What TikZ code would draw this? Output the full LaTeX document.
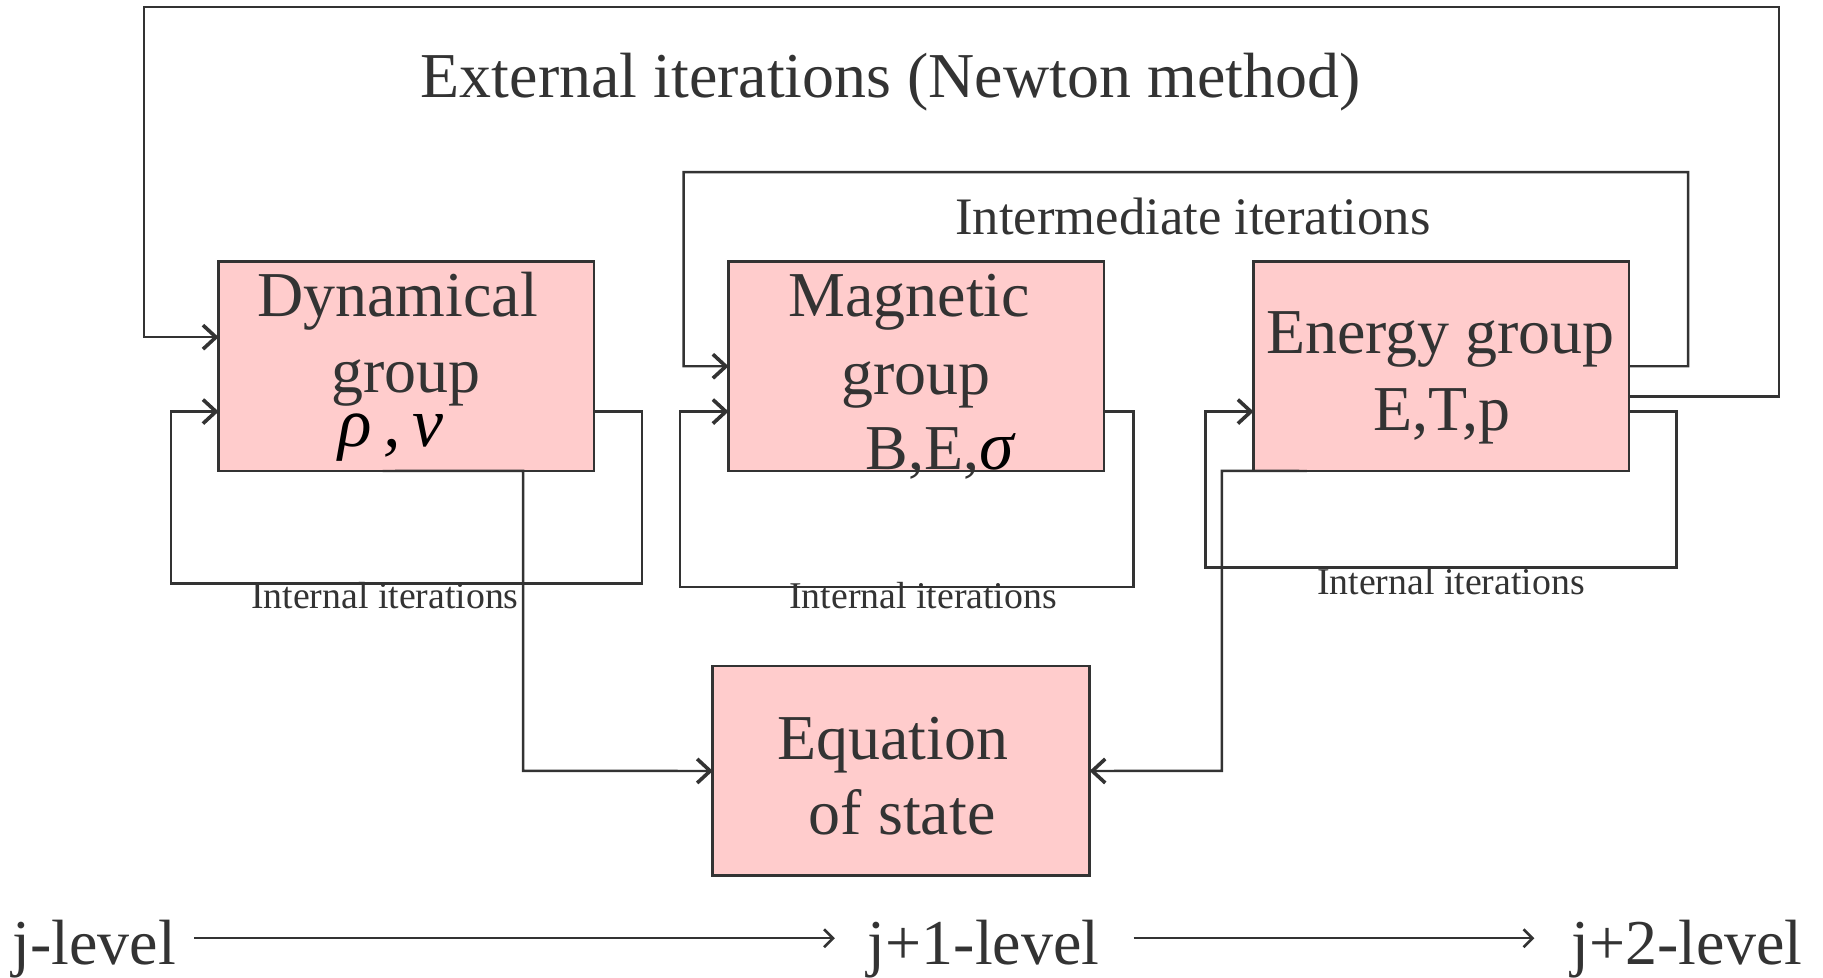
\documentclass[tikz,border=0pt]{standalone}
\usepackage{fontspec}
\setmainfont{Liberation Serif}
\usetikzlibrary{arrows.meta}
\definecolor{ink}{HTML}{333333}
\definecolor{boxfill}{HTML}{FFCCCC}
\begin{document}
\begin{tikzpicture}[x=1pt,y=-1pt,scale=1.1626,transform shape,
  grp/.style={draw=ink,fill=boxfill,line width=2.6pt,minimum width=323pt,minimum height=180pt,inner sep=0pt,outer sep=0pt},
  big/.style={text=ink,font=\fontsize{55}{60}\selectfont,anchor=base,inner sep=0pt},
  smalltxt/.style={text=ink,font=\fontsize{32.5}{36}\selectfont,anchor=base,inner sep=0pt},
  midtxt/.style={text=ink,font=\fontsize{45.3}{50}\selectfont,anchor=base,inner sep=0pt},
  conn/.style={draw=ink,line width=2.4pt},
  tip/.style={-{Straight Barb[length=13pt,width=24pt,line width=3.6pt]}},
  lvl/.style={draw=ink,line width=2.4pt,-{Straight Barb[length=9pt,width=18pt,line width=2.6pt]}}
]
\useasboundingbox (0,0) rectangle (1568,841);
% boxes
\node[grp] (D) at (349.5,315) {};
\node[grp] (M) at (788,315) {};
\node[grp] (En) at (1239.5,315) {};
\node[grp,minimum width=324pt] (EOS) at (775,663) {};
% connectors
\draw[conn,tip] (En.east |- 0,341) -- (1530,341) -- (1530,6) -- (124,6) -- (124,290) -- (D.west |- 0,290);
\draw[conn,tip] (En.east) -- (1452,315) -- (1452,148) -- (588,148) -- (588,315) -- (M.west);
\draw[conn,tip] (D.east |- 0,354) -- (552,354) -- (552,502) -- (147,502) -- (147,354) -- (D.west |- 0,354);
\draw[conn,tip] (M.east |- 0,354) -- (975,354) -- (975,505) -- (585,505) -- (585,354) -- (M.west |- 0,354);
\draw[conn,tip] (En.east |- 0,354) -- (1442,354) -- (1442,488) -- (1037,488) -- (1037,354) -- (En.west |- 0,354);
\draw[conn,tip] (D.south -| 329,0) -- (450,405) -- (450,663) -- (EOS.west);
\draw[conn,tip] (En.south -| 1124,0) -- (1051,405) -- (1051,663) -- (EOS.east);
% texts
\node[big] (Dt1) at (342,271.8) {Dynamical};
\node[big] (Dt2) at (349,338) {group};
\node[big,text=black,font=\fontsize{60}{64}\selectfont] (Dt3) at (336,384) {\itshape ρ\,,\,v};
\node[big] (Mt1) at (782,271.8) {Magnetic};
\node[big] (Mt2) at (788,339) {group};
\node[big] (Mt3) at (808,404) {B,E,\textcolor{black}{\fontsize{60}{64}\selectfont\itshape σ}};
\node[big] (Et1) at (1239,304) {Energy group};
\node[big] (Et2) at (1240,370.4) {E,T,p};
\node[big] (Qt1) at (768,653) {Equation};
\node[big] (Qt2) at (776,718) {of state};
\node[big] (title) at (766,84) {External iterations (Newton method)};
\node[midtxt] (inter) at (1026,202) {Intermediate iterations};
\node[smalltxt] (iD) at (331,523) {Internal iterations};
\node[smalltxt] (iM) at (794,523) {Internal iterations};
\node[smalltxt] (iE) at (1248,511) {Internal iterations};
% levels
\node[big] (jl) at (81,830) {j-level};
\node[big] (j1) at (846,830) {j+1-level};
\node[big] (j2) at (1451,830) {j+2-level};
\draw[lvl,shorten <=18pt,shorten >=33pt] (jl.east |- 0,807) -- (j1.west |- 0,807);
\draw[lvl,shorten <=34pt,shorten >=37pt] (j1.east |- 0,807) -- (j2.west |- 0,807);
\end{tikzpicture}
\end{document}
